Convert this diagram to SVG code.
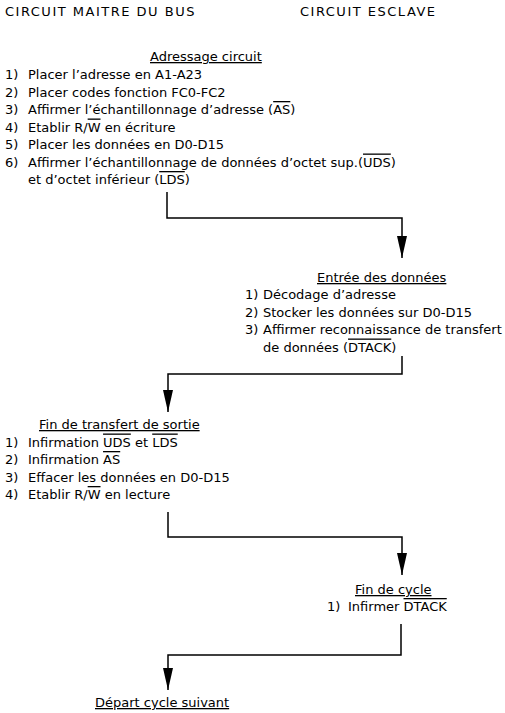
<svg xmlns="http://www.w3.org/2000/svg" width="505" height="713" viewBox="0 0 505 713">
<style>
text{font-family:"DejaVu Sans","Liberation Sans",sans-serif;font-size:13px;fill:#000}
.hd{letter-spacing:1.5px}
.ttl{text-decoration:underline}
.ov{text-decoration:overline}
.conn{fill:none;stroke:#000;stroke-width:1.5}
</style>
<defs>
<marker id="arr" markerUnits="userSpaceOnUse" markerWidth="24" markerHeight="12" refX="22" refY="5" orient="auto">
<path d="M0,0 L22,5 L0,10 z" fill="#000"/>
</marker>
</defs>
<g id="headers">
<text class="hd" x="5" y="16">CIRCUIT MAITRE DU BUS</text>
<text class="hd" x="300" y="16">CIRCUIT ESCLAVE</text>
</g>
<g id="adressage">
<text class="ttl" x="150" y="61">Adressage circuit</text>
<text x="5" y="79">1)</text><text x="28" y="79">Placer l’adresse en A1-A23</text>
<text x="5" y="96.5">2)</text><text x="28" y="96.5">Placer codes fonction FC0-FC2</text>
<text x="5" y="114">3)</text><text x="28" y="114">Affirmer l’échantillonnage d’adresse (<tspan class="ov">AS</tspan>)</text>
<text x="5" y="131.5">4)</text><text x="28" y="131.5">Etablir R/<tspan class="ov">W</tspan> en écriture</text>
<text x="5" y="149">5)</text><text x="28" y="149">Placer les données en D0-D15</text>
<text x="5" y="166.5">6)</text><text x="28" y="166.5">Affirmer l’échantillonnage de données d’octet sup.(<tspan class="ov">UDS</tspan>)</text>
<text x="28" y="184">et d’octet inférieur (<tspan class="ov">LDS</tspan>)</text>
</g>
<g id="entree">
<text class="ttl" x="317" y="282">Entrée des données</text>
<text x="245" y="299">1)</text><text x="263" y="299">Décodage d’adresse</text>
<text x="245" y="316.5">2)</text><text x="263" y="316.5">Stocker les données sur D0-D15</text>
<text x="245" y="334">3)</text><text x="263" y="334">Affirmer reconnaissance de transfert</text>
<text x="263" y="351.5">de données (<tspan class="ov">DTACK</tspan>)</text>
</g>
<g id="fin-transfert">
<text class="ttl" x="39" y="429">Fin de transfert de sortie</text>
<text x="5" y="446.5">1)</text><text x="28" y="446.5">Infirmation <tspan class="ov">UDS</tspan> et <tspan class="ov">LDS</tspan></text>
<text x="5" y="464">2)</text><text x="28" y="464">Infirmation <tspan class="ov">AS</tspan></text>
<text x="5" y="481.5">3)</text><text x="28" y="481.5">Effacer les données en D0-D15</text>
<text x="5" y="499">4)</text><text x="28" y="499">Etablir R/<tspan class="ov">W</tspan> en lecture</text>
</g>
<g id="fin-cycle">
<text class="ttl" x="355" y="594">Fin de cycle</text>
<text x="327" y="611">1)</text><text x="348" y="611">Infirmer <tspan class="ov">DTACK</tspan></text>
</g>
<g id="depart">
<text class="ttl" x="95" y="707">Départ cycle suivant</text>
</g>
<g id="connectors">
<path class="conn" d="M167,192 V218 H402 V258" marker-end="url(#arr)"/>
<path class="conn" d="M402,356 V374 H168 V412" marker-end="url(#arr)"/>
<path class="conn" d="M168,512 V537 H402 V575" marker-end="url(#arr)"/>
<path class="conn" d="M401,624 V655 H168 V690" marker-end="url(#arr)"/>
</g>
</svg>
